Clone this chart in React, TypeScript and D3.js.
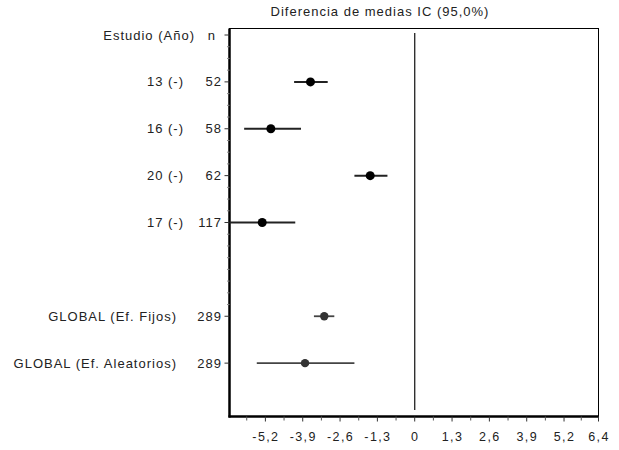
import React from 'react';
import * as d3 from 'd3';

// forest plot: diferencia de medias con IC 95%

const title = 'Diferencia de medias IC  (95,0%)';
const headerLabel = 'Estudio  (Año)';
const headerN = 'n';

const studies = ['13 (-)', '16 (-)', '20 (-)', '17 (-)'];
const studyN = [52, 58, 62, 117];
const studyMean = [-3.63, -5.01, -1.55, -5.31];
const studyLow = [-4.2, -5.94, -2.1, -6.45];
const studyHigh = [-3.03, -3.96, -0.95, -4.16];

const globals = ['GLOBAL (Ef. Fijos)', 'GLOBAL (Ef. Aleatorios)'];
const globalN = [289, 289];
const globalMean = [-3.15, -3.82];
const globalLow = [-3.51, -5.5];
const globalHigh = [-2.8, -2.1];

const xTicks = [-5.2, -3.9, -2.6, -1.3, 0, 1.3, 2.6, 3.9, 5.2, 6.4];
const xMinorTicks = [-5.85, -4.55, -3.25, -1.95, -0.65, 0.65, 1.95, 3.25, 4.55, 5.8];

const W = 619;
const H = 450;
const font = '"Liberation Sans", Arial, sans-serif';

function App() {
    const left = 229.5, right = 598.5, top = 28.5, bottom = 416.5;

    const x = d3.scaleLinear().domain([-6.45, 6.4]).range([left, right]);
    // row 0 = header, 1..4 studies, 5 blank, 6..7 globals, 8 = end
    const y = d3.scaleLinear().domain([0, 8]).range([35, 410]);

    const studyRows = studies.map((_, i) => i + 1);
    const globalRows = globals.map((_, i) => i + 6);
    const majorRows = [0, ...studyRows, ...globalRows];
    const minorRows = d3.range(0, 6.01, 0.25).filter((r) => !majorRows.includes(r));

    const fmt = (v: number) => String(v).replace('.', ',');
    const ls = 1; // letter spacing, the original font is wide
    // end-anchored text also carries trailing spacing, compensate a bit
    const endX = (v: number) => v + ls;

    return (
        <svg width={W} height={H} style={{position: 'absolute', left: 0, top: 0, background: '#fff', whiteSpace: 'pre'}}
             fontFamily={font} fontSize={13} fill="#222" letterSpacing={ls}>
            <text x={380} y={16} textAnchor="middle">{title}</text>

            {/* frame */}
            <rect x={left} y={top} width={right - left} height={bottom - top} fill="none" stroke="#000" strokeWidth={1}/>
            <line x1={left} x2={left} y1={top} y2={bottom + 1} stroke="#000" strokeWidth={2.5}/>
            <line x1={left - 1} x2={right + 0.5} y1={bottom} y2={bottom} stroke="#000" strokeWidth={2.5}/>

            {/* zero line */}
            <line x1={x(0)} x2={x(0)} y1={33} y2={410} stroke="#222" strokeWidth={1.3}/>

            {/* x axis */}
            {xTicks.map((t) => (
                <g key={'xt' + t}>
                    <line x1={x(t)} x2={x(t)} y1={bottom} y2={bottom + 5} stroke="#333" strokeWidth={1}/>
                    <text x={x(t) + 0.5} y={441} textAnchor="middle" fontSize={12.5} letterSpacing={1.4}>{fmt(t)}</text>
                </g>
            ))}
            {xMinorTicks.map((t) => (
                <line key={'xm' + t} x1={x(t)} x2={x(t)} y1={bottom} y2={bottom + 4} stroke="#555" strokeWidth={1}/>
            ))}

            {/* y axis ticks */}
            {majorRows.map((r) => (
                <line key={'yt' + r} x1={left - 5} x2={left} y1={y(r)} y2={y(r)} stroke="#333" strokeWidth={1}/>
            ))}
            {minorRows.map((r) => (
                <line key={'ym' + r} x1={left - 2.5} x2={left} y1={y(r)} y2={y(r)} stroke="#888" strokeWidth={1}/>
            ))}

            {/* labels */}
            <text x={endX(194)} y={y(0) + 4.5} textAnchor="end">{headerLabel}</text>
            <text x={endX(215)} y={y(0) + 4.5} textAnchor="end">{headerN}</text>
            {studies.map((s, i) => (
                <g key={s}>
                    <text x={endX(183)} y={y(studyRows[i]) + 4.5} textAnchor="end">{s}</text>
                    <text x={endX(221)} y={y(studyRows[i]) + 4.5} textAnchor="end">{studyN[i]}</text>
                </g>
            ))}
            {globals.map((s, i) => (
                <g key={s}>
                    <text x={endX(176)} y={y(globalRows[i]) + 4.5} textAnchor="end">{s}</text>
                    <text x={endX(221)} y={y(globalRows[i]) + 4.5} textAnchor="end">{globalN[i]}</text>
                </g>
            ))}

            {/* study CIs */}
            {studies.map((s, i) => (
                <g key={'ci' + s}>
                    <line x1={x(studyLow[i])} x2={x(studyHigh[i])} y1={y(studyRows[i])} y2={y(studyRows[i])}
                          stroke="#222" strokeWidth={2}/>
                    <circle cx={x(studyMean[i])} cy={y(studyRows[i])} r={4.5} fill="#000"/>
                </g>
            ))}
            {globals.map((s, i) => (
                <g key={'ci' + s}>
                    <line x1={x(globalLow[i])} x2={x(globalHigh[i])} y1={y(globalRows[i])} y2={y(globalRows[i])}
                          stroke="#444" strokeWidth={1.8}/>
                    <circle cx={x(globalMean[i])} cy={y(globalRows[i])} r={4.2} fill="#333"/>
                </g>
            ))}
        </svg>
    );
}

export default App;
